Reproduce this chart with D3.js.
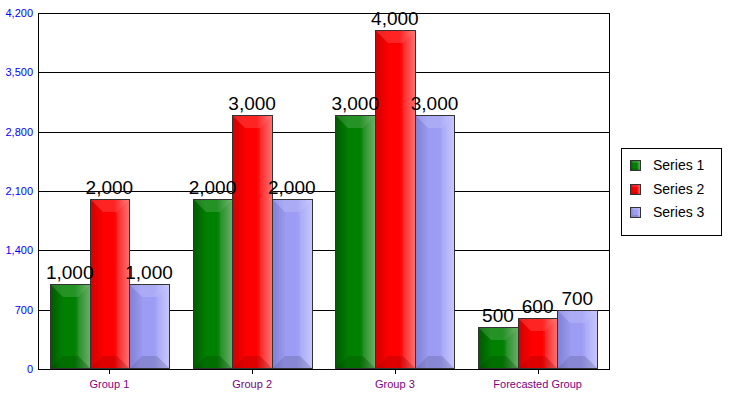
<!DOCTYPE html>
<html><head><meta charset="utf-8">
<script src="https://cdn.jsdelivr.net/npm/d3@7"></script>
<style>body{margin:0;background:#fff;}svg{display:block;font-family:Arial,"Liberation Sans",sans-serif;}</style>
</head><body>
<svg id="chart" width="729" height="399"></svg>
<script>
const groups = ["Group 1", "Group 2", "Group 3", "Forecasted Group"];
const seriesNames = ["Series 1", "Series 2", "Series 3"];
const series1 = [1000, 2000, 3000, 500];
const series2 = [2000, 3000, 4000, 600];
const series3 = [1000, 2000, 3000, 700];
const yTicks = [0, 700, 1400, 2100, 2800, 3500, 4200];
const seriesValues = [series1, series2, series3];
const colors = [
  {dark:"#005c00", base:"#008000", light:"#64aa64"},
  {dark:"#d80000", base:"#ff0000", light:"#ff6c6c"},
  {dark:"#8484dc", base:"#9c9cf4", light:"#c4c4ff"}
];

const svg = d3.select("#chart");
const L = 38, R = 609, T = 13, B = 369;
const x0 = d3.scaleBand().domain(groups).range([L, R]).paddingInner(0).paddingOuter(0);
const x1 = d3.scaleBand().domain(d3.range(3)).range([0, x0.bandwidth()]).paddingInner(0).paddingOuter(0.3);
const y = d3.scaleLinear().domain([0, 4200]).range([B, T]);

const defs = svg.append("defs");
colors.forEach((c, i) => {
  const g = defs.append("linearGradient").attr("id", "g" + i).attr("x1", 0).attr("x2", 1).attr("y1", 0).attr("y2", 0);
  g.append("stop").attr("offset", "0").attr("stop-color", c.dark);
  g.append("stop").attr("offset", "0.3").attr("stop-color", c.base);
  g.append("stop").attr("offset", "0.6").attr("stop-color", c.base);
  g.append("stop").attr("offset", "1").attr("stop-color", c.light);
});

// grid lines
svg.append("g").selectAll("line").data(yTicks).join("line")
  .attr("x1", L).attr("x2", R).attr("y1", d => Math.round(y(d)) + 0.5).attr("y2", d => Math.round(y(d)) + 0.5)
  .attr("stroke", "#000").attr("stroke-width", 1);

// y axis labels
svg.append("g").selectAll("text").data(yTicks).join("text")
  .attr("x", 33).attr("y", d => y(d) + 4).attr("text-anchor", "end")
  .attr("fill", "#0000ff").attr("font-size", 11).text(d => d3.format(",")(d));

function bevelBar(g, x, yTop, w, h, ci, bv) {
  const b = Math.min(bv, w / 2, h / 2);
  g.append("rect").attr("x", x).attr("y", yTop).attr("width", w).attr("height", h).attr("fill", `url(#g${ci})`);
  g.append("polygon").attr("points", [[x, yTop], [x + w, yTop], [x + w - b, yTop + b], [x + b, yTop + b]].join(" "))
    .attr("fill", "#fff").attr("opacity", 0.14);
  g.append("polygon").attr("points", [[x, yTop + h], [x + w, yTop + h], [x + w - b, yTop + h - b], [x + b, yTop + h - b]].join(" "))
    .attr("fill", "#000").attr("opacity", 0.13);
  g.append("polygon").attr("points", [[x, yTop], [x + b, yTop + b], [x + b, yTop + h - b], [x, yTop + h]].join(" "))
    .attr("fill", "#000").attr("opacity", 0.03);
  g.append("polygon").attr("points", [[x + w, yTop], [x + w - b, yTop + b], [x + w - b, yTop + h - b], [x + w, yTop + h]].join(" "))
    .attr("fill", "#fff").attr("opacity", 0.07);
  g.append("rect").attr("x", x + 0.5).attr("y", yTop + 0.5).attr("width", w - 1).attr("height", h - 1)
    .attr("fill", "none").attr("stroke", "#333").attr("stroke-width", 1);
}

const barsG = svg.append("g");
groups.forEach((grp, gi) => {
  seriesValues.forEach((vals, si) => {
    const v = vals[gi];
    const bx = Math.round(x0(grp) + x1(si));
    const bw = Math.round(x0(grp) + x1(si) + x1.bandwidth()) - bx;
    const yt = Math.round(y(v));
    bevelBar(barsG.append("g"), bx, yt, bw + 1, B - yt, si, 13);
  });
});

// axes lines
svg.append("line").attr("x1", L + 0.5).attr("x2", L + 0.5).attr("y1", T).attr("y2", B + 1).attr("stroke", "#000");
svg.append("line").attr("x1", R + 0.5).attr("x2", R + 0.5).attr("y1", T).attr("y2", B + 1).attr("stroke", "#000");
svg.append("line").attr("x1", L).attr("x2", R + 1).attr("y1", B + 0.5).attr("y2", B + 0.5).attr("stroke", "#000");

// value labels
const labG = svg.append("g");
groups.forEach((grp, gi) => {
  seriesValues.forEach((vals, si) => {
    const v = vals[gi];
    const cx = x0(grp) + x1(si) + x1.bandwidth() / 2;
    labG.append("text").attr("x", cx).attr("y", y(v) - 5).attr("text-anchor", "middle")
      .attr("font-size", 19).attr("fill", "#000").text(d3.format(",")(v));
  });
});

// category ticks & labels
svg.append("g").selectAll("line").data(groups).join("line")
  .attr("x1", d => Math.round(x0(d) + x0.bandwidth() / 2) + 0.5).attr("x2", d => Math.round(x0(d) + x0.bandwidth() / 2) + 0.5)
  .attr("y1", B).attr("y2", B + 5).attr("stroke", "#000");
svg.append("g").selectAll("text").data(groups).join("text")
  .attr("x", d => x0(d) + x0.bandwidth() / 2).attr("y", 388).attr("text-anchor", "middle")
  .attr("fill", "#800080").attr("font-size", 11).text(d => d);

// legend
const lg = svg.append("g");
lg.append("rect").attr("x", 621.5).attr("y", 148.5).attr("width", 100).attr("height", 87)
  .attr("fill", "#fff").attr("stroke", "#000");
seriesNames.forEach((s, i) => {
  const cy = 165 + i * 23.5;
  bevelBar(lg.append("g"), 630, Math.round(cy - 5), 11, 11, i, 3);
  lg.append("text").attr("x", 653).attr("y", cy + 5).attr("font-size", 14).attr("fill", "#000").text(s);
});
</script>
</body></html>
